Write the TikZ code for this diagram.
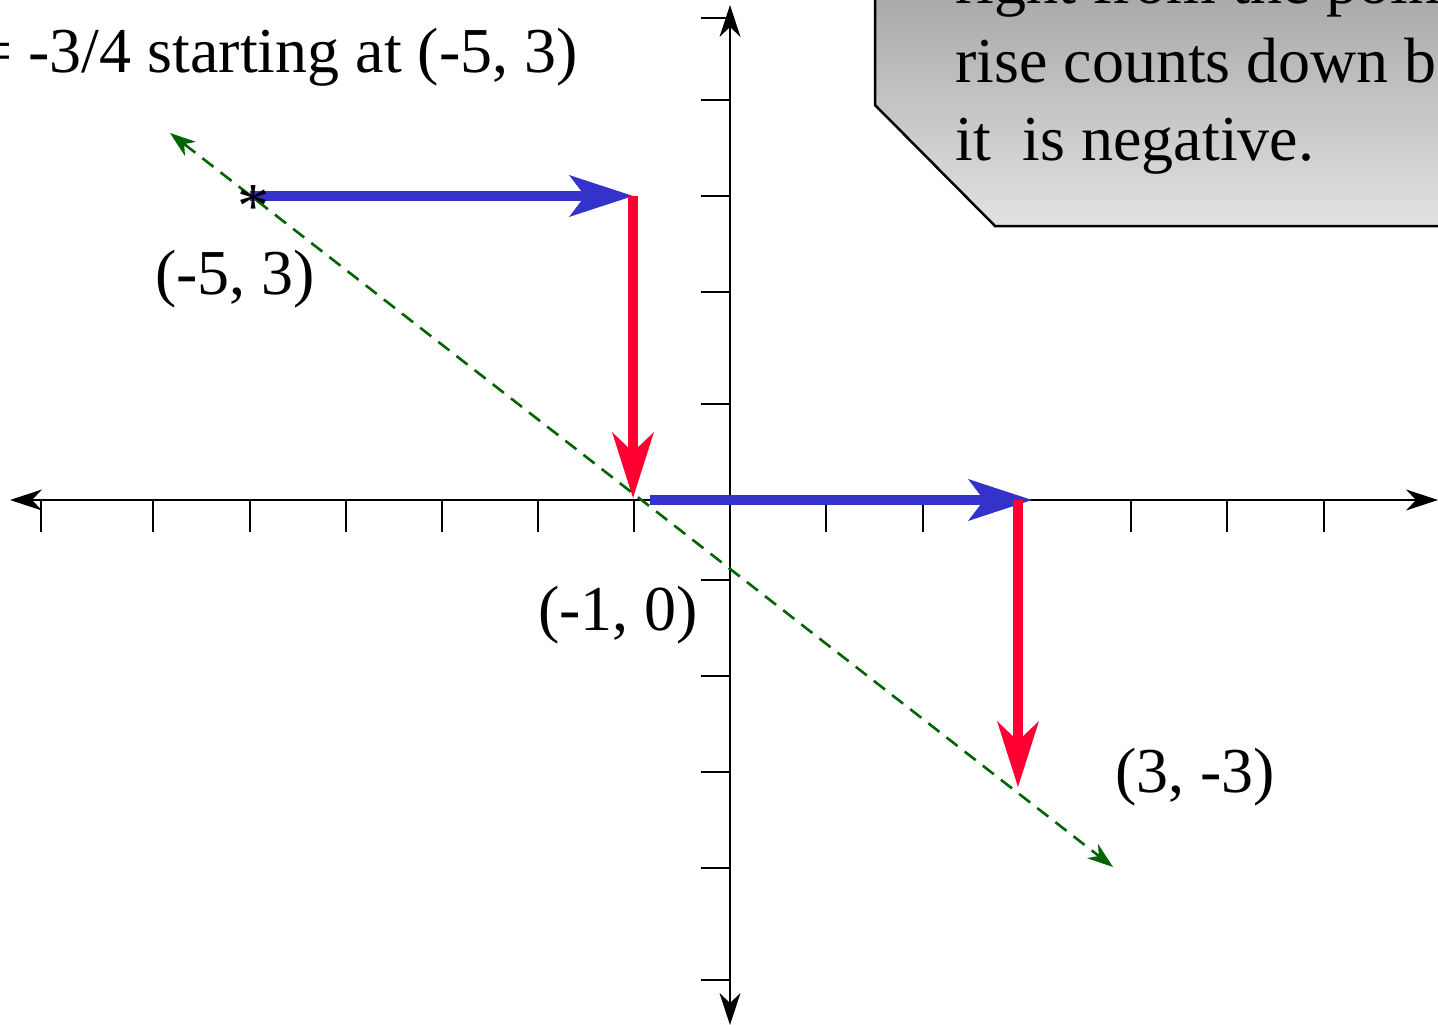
\documentclass[tikz,border=0pt]{standalone}
\usepackage{fontspec}
\setmainfont{Liberation Serif}
\usetikzlibrary{arrows.meta}
\definecolor{ablue}{RGB}{51,51,204}
\definecolor{ared}{RGB}{255,0,51}
\definecolor{agreen}{RGB}{0,100,0}
\definecolor{boxtop}{RGB}{168,168,168}
\definecolor{boxbot}{RGB}{226,226,226}
\begin{document}
\begin{tikzpicture}[x=1pt,y=-1pt,
  axis/.style={line width=2.6pt, black},
  tickmark/.style={line width=2.6pt, black},
  bluearrow/.style={line width=10pt, ablue, -{Stealth[length=64pt,width=42pt,inset=16pt,line width=0pt]}},
  redarrow/.style={line width=10pt, ared, -{Stealth[length=66pt,width=42pt,inset=20pt,line width=0pt]}},
  guide/.style={line width=2.6pt, agreen, dash pattern=on 14pt off 9pt, {Stealth[length=26pt,width=18pt,inset=8pt,line width=0pt]}-{Stealth[length=26pt,width=18pt,inset=8pt,line width=0pt]}},
  lbl/.style={inner sep=0pt, font=\fontsize{64}{77}\selectfont},
  calloutbox/.style={draw=black, line width=2.5pt, top color=boxtop, bottom color=boxbot},
]
\useasboundingbox (0,0) rectangle (1438,1025);
\clip (0,0) rectangle (1438,1025);

% callout box
\path[calloutbox] (875,-10) -- (875,105) -- (995,226) -- (1450,226) -- (1450,-10) -- cycle;
\node[lbl, anchor=base west] (t1) at (955,4) {right from the poin};
\node[lbl, anchor=base west] (t2) at (955,82) {rise counts down b};
\node[lbl, anchor=base west] (t3) at (955,160) {it\ \ is negative.};

% axes
\coordinate (xl) at (10,500);
\coordinate (xr) at (1438,500);
\coordinate (yt) at (730,5);
\coordinate (yb) at (730,1025);
\draw[axis, {Stealth[length=32pt,width=21pt,inset=10pt,line width=0pt]}-{Stealth[length=32pt,width=21pt,inset=10pt,line width=0pt]}] (xl) -- (xr);
\draw[axis, {Stealth[length=32pt,width=21pt,inset=10pt,line width=0pt]}-{Stealth[length=32pt,width=21pt,inset=10pt,line width=0pt]}] (yt) -- (yb);

% ticks
\foreach \tx in {41,153,250,346,442,538,634,826,923,1018,1131,1227,1324}
  \draw[tickmark] (\tx,500) -- (\tx,532);
\foreach \ty in {18,100,196,292,404,580,676,772,868,980}
  \draw[tickmark] (701,\ty) -- (730,\ty);

% points
\coordinate (A) at (250,196);
\coordinate (B) at (633,196);
\coordinate (C) at (633,498);
\coordinate (D) at (650,500);
\coordinate (E) at (1032,500);
\coordinate (F) at (1018,500);
\coordinate (G) at (1018,787);
\coordinate (g1) at (170,133);
\coordinate (g2) at (1113,867);

\draw[bluearrow] (A) -- (B);
\draw[bluearrow] (D) -- (E);
\draw[redarrow] (B) -- (C);
\draw[redarrow] (F) -- (G);

\draw[guide] (g1) -- (g2);

\node[inner sep=0pt, anchor=base, font=\fontsize{64}{64}\selectfont] (star) at (253,227) {*};

% labels
\node[lbl, anchor=base east] (title) at (578,73) {= -3/4 starting at (-5, 3)};
\node[lbl, anchor=base west] (la) at (155,294) {(-5, 3)};
\node[lbl, anchor=base west] (lb) at (538,630) {(-1, 0)};
\node[lbl, anchor=base west] (lc) at (1115,792) {(3, -3)};
\end{tikzpicture}
\end{document}
